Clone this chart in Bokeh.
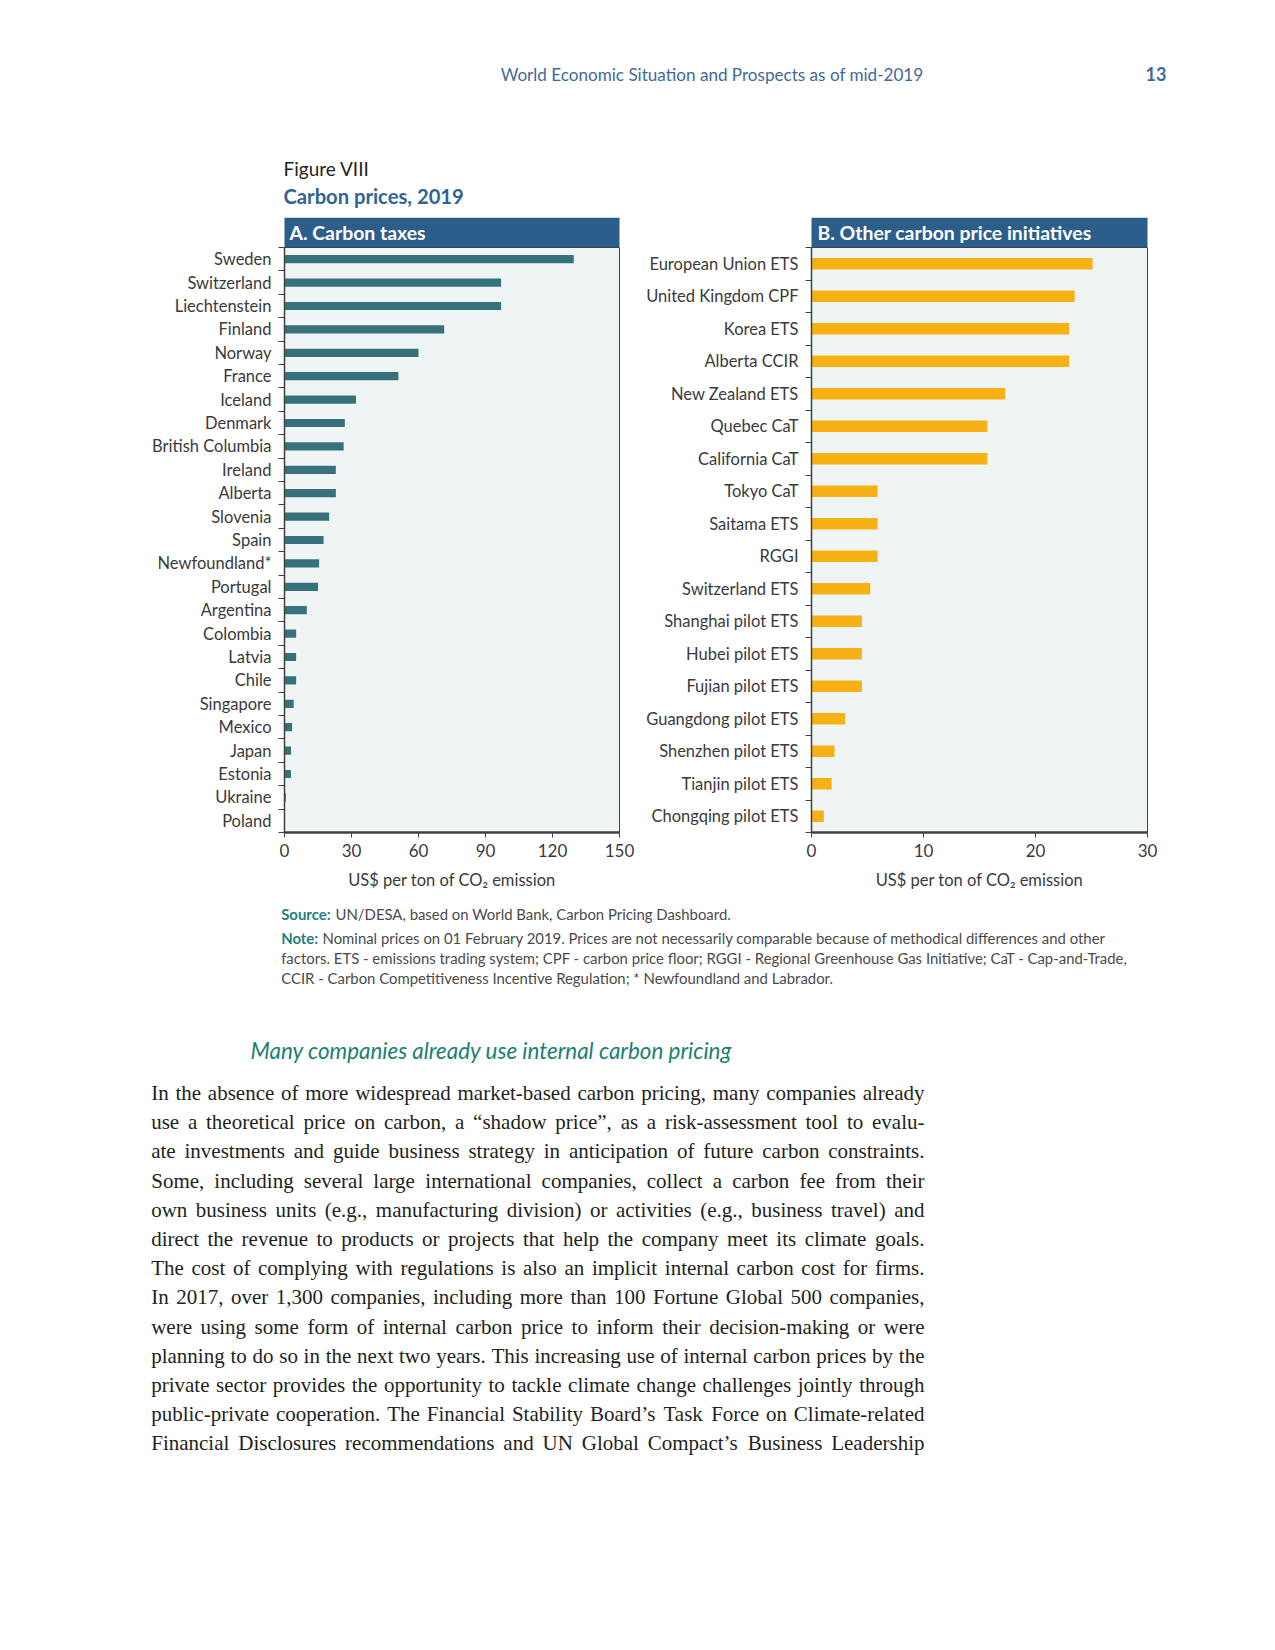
from bokeh.plotting import figure
from bokeh.layouts import column, row
from bokeh.models import Range1d, FixedTicker, LinearAxis, ColumnDataSource
from bokeh.core.properties import value
from bokeh.embed import file_html
from bokeh.resources import INLINE

# ---------------- data ----------------
tax_names = ["Sweden", "Switzerland", "Liechtenstein", "Finland", "Norway", "France",
             "Iceland", "Denmark", "British Columbia", "Ireland", "Alberta", "Slovenia",
             "Spain", "Newfoundland*", "Portugal", "Argentina", "Colombia", "Latvia",
             "Chile", "Singapore", "Mexico", "Japan", "Estonia", "Ukraine", "Poland"]
tax_values = [129.5, 97, 97, 71.5, 60, 51, 32, 27, 26.5, 23, 23, 20, 17.5, 15.5, 15,
              10, 5.2, 5.2, 5.2, 4.1, 3.4, 2.9, 2.9, 0.6, 0.2]
tax_ticks = [0, 30, 60, 90, 120, 150]

eti_names = ["European Union ETS", "United Kingdom CPF", "Korea ETS", "Alberta CCIR",
             "New Zealand ETS", "Quebec CaT", "California CaT", "Tokyo CaT", "Saitama ETS",
             "RGGI", "Switzerland ETS", "Shanghai pilot ETS", "Hubei pilot ETS",
             "Fujian pilot ETS", "Guangdong pilot ETS", "Shenzhen pilot ETS",
             "Tianjin pilot ETS", "Chongqing pilot ETS"]
eti_values = [25.1, 23.5, 23.0, 23.0, 17.3, 15.7, 15.7, 5.9, 5.9, 5.9, 5.25, 4.5, 4.5,
              4.5, 3.0, 2.05, 1.8, 1.1]
eti_ticks = [0, 10, 20, 30]

x_title = "US$ per ton of CO\u2082 emission"

header_text = "World Economic Situation and Prospects as of mid-2019"
page_no = "13"
fig_label = "Figure VIII"
fig_title = "Carbon prices, 2019"
panel_titles = ["A. Carbon taxes", "B. Other carbon price initiatives"]

source_lbl = "Source:"
source_txt = "UN/DESA, based on World Bank, Carbon Pricing Dashboard."
note_lbl = "Note:"
note_lines = [
    "Nominal prices on 01 February 2019. Prices are not necessarily comparable because of methodical differences and other",
    "factors. ETS - emissions trading system; CPF - carbon price floor; RGGI - Regional Greenhouse Gas Initiative; CaT - Cap-and-Trade,",
    "CCIR - Carbon Competitiveness Incentive Regulation; * Newfoundland and Labrador.",
]
heading = "Many companies already use internal carbon pricing"
body_lines = [
    "In the absence of more widespread market-based carbon pricing, many companies already",
    "use a theoretical price on carbon, a \u201cshadow price\u201d, as a risk-assessment tool to evalu-",
    "ate investments and guide business strategy in anticipation of future carbon constraints.",
    "Some, including several large international companies, collect a carbon fee from their",
    "own business units (e.g., manufacturing division) or activities (e.g., business travel) and",
    "direct the revenue to products or projects that help the company meet its climate goals.",
    "The cost of complying with regulations is also an implicit internal carbon cost for firms.",
    "In 2017, over 1,300 companies, including more than 100 Fortune Global 500 companies,",
    "were using some form of internal carbon price to inform their decision-making or were",
    "planning to do so in the next two years. This increasing use of internal carbon prices by the",
    "private sector provides the opportunity to tackle climate change challenges jointly through",
    "public-private cooperation. The Financial Stability Board\u2019s Task Force on Climate-related",
    "Financial Disclosures recommendations and UN Global Compact\u2019s Business Leadership",
]

# ---------------- styles ----------------
SANS = "Lato"
SERIF = "Liberation Serif"
DARK = "#404040"
LABEL = "#3a3a3a"
BLUE_BAND = "#2c5e8c"
BLUE_TXT = "#2f6395"
HEAD_BLUE = "#3d6a9a"
TEAL = "#23807f"
TEAL_HEAD = "#1a7f73"
TAX_COLOR = "#36717c"
ETI_COLOR = "#f8b114"
BG = "#eff5f5"
PAGE_W = 1270
DY_SANS = 7.3     # baseline correction for text glyphs
DY_SERIF = 8.2


def bare(width, height, x0, x1, y0, y1):
    p = figure(width=width, height=height, x_range=Range1d(x0, x1), y_range=Range1d(y1, y0),
               output_backend="svg", toolbar_location=None, x_axis_type=None,
               y_axis_type=None, min_border=0, outline_line_color=None)
    return p


def txt(p, x, y, s, font, size, color, style="normal", align="left"):
    dy = DY_SERIF if font == SERIF else DY_SANS
    p.text(x=[x], y=[y - dy], text=[s], text_font=value(font), text_font_size=value(size),
           text_color=color, text_font_style=style, text_align=align,
           text_baseline="alphabetic")


# ---------------- top decoration ----------------
top = bare(PAGE_W, 247, 0, PAGE_W, 0, 247)
txt(top, 923, 81, header_text, SANS, "17.1px", HEAD_BLUE, align="right")
txt(top, 1145, 81, page_no, SANS, "18px", HEAD_BLUE, style="bold")
txt(top, 283, 175, fig_label, SANS, "19px", "#231f20")
txt(top, 283, 203, fig_title, SANS, "20.2px", BLUE_TXT, style="bold")
top.quad(left=[284, 811], right=[619, 1147], top=[217.3, 217.3], bottom=[247, 247],
         fill_color=BLUE_BAND, line_color=None)
txt(top, 289, 239, panel_titles[0], SANS, "19.4px", "white", style="bold")
txt(top, 817, 239, panel_titles[1], SANS, "19.4px", "white", style="bold")


# ---------------- panels ----------------
def panel(names, vals, color, xmax, ticks, width, left, right):
    n = len(names)
    ys = [n - 1 - i for i in range(n)]
    src = ColumnDataSource(dict(y=ys, v=vals, name=names))
    p = figure(width=width, height=653, output_backend="svg", toolbar_location=None,
               x_range=Range1d(0, xmax), y_range=Range1d(-0.5, n - 0.5),
               x_axis_type=None, y_axis_type=None,
               min_border_left=left, min_border_right=right, min_border_top=0,
               min_border_bottom=68, background_fill_color=BG,
               outline_line_color=DARK, outline_line_width=1)
    p.hbar(y="y", left=0, right="v", height=0.35, fill_color=color, line_color=None,
           source=src)
    yax = LinearAxis(ticker=FixedTicker(ticks=ys, minor_ticks=[i - 0.5 for i in range(n + 1)]),
                     major_label_overrides={y: nm for y, nm in zip(ys, names)})
    yax.major_tick_line_color = None
    yax.major_tick_out = 0
    yax.major_tick_in = 0
    yax.minor_tick_out = 6
    yax.minor_tick_in = 0
    yax.minor_tick_line_color = DARK
    yax.minor_tick_line_width = 1.2
    yax.axis_line_color = DARK
    yax.axis_line_width = 1.5
    yax.major_label_standoff = 7
    yax.major_label_text_font = SANS
    yax.major_label_text_font_size = "16.5px"
    yax.major_label_text_color = LABEL
    p.add_layout(yax, "left")
    xax = LinearAxis(ticker=FixedTicker(ticks=ticks), axis_label=x_title)
    xax.major_tick_out = 5
    xax.major_tick_in = 0
    xax.minor_tick_line_color = None
    xax.major_tick_line_color = DARK
    xax.axis_line_color = DARK
    xax.axis_line_width = 2.5
    xax.major_label_standoff = 6
    xax.major_label_text_font = SANS
    xax.major_label_text_font_size = "17px"
    xax.major_label_text_color = LABEL
    xax.axis_label_text_font = SANS
    xax.axis_label_text_font_size = "16.5px"
    xax.axis_label_text_font_style = "normal"
    xax.axis_label_text_color = LABEL
    xax.axis_label_standoff = 10
    p.add_layout(xax, "below")
    return p


pa = panel(tax_names, tax_values, TAX_COLOR, 150, tax_ticks, 634, 284, 15)
pb = panel(eti_names, eti_values, ETI_COLOR, 30, eti_ticks, PAGE_W - 634, 177, PAGE_W - 1147)

# ---------------- footer ----------------
foot = bare(PAGE_W, 570, 0, PAGE_W, 900, 1470)
NOTE_FS = "14.9px"
NOTE_C = "#4a4a4a"
txt(foot, 280.7, 920.7, source_lbl, SANS, NOTE_FS, TEAL, style="bold")
txt(foot, 335, 920.7, source_txt, SANS, NOTE_FS, NOTE_C)
txt(foot, 280.7, 945, note_lbl, SANS, NOTE_FS, TEAL, style="bold")
txt(foot, 322, 945, note_lines[0], SANS, NOTE_FS, NOTE_C)
txt(foot, 280.7, 965, note_lines[1], SANS, NOTE_FS, NOTE_C)
txt(foot, 280.7, 984.5, note_lines[2], SANS, NOTE_FS, NOTE_C)
txt(foot, 250, 1057, heading, SANS, "22.4px", TEAL_HEAD, style="italic")

TW = {' ': 250, 'a': 444, 'b': 500, 'c': 444, 'd': 500, 'e': 444, 'f': 333, 'g': 500,
      'h': 500, 'i': 278, 'j': 278, 'k': 500, 'l': 278, 'm': 778, 'n': 500, 'o': 500,
      'p': 500, 'q': 500, 'r': 333, 's': 389, 't': 278, 'u': 500, 'v': 500, 'w': 722,
      'x': 500, 'y': 500, 'z': 444, 'A': 722, 'B': 667, 'C': 667, 'D': 722, 'E': 611,
      'F': 556, 'G': 722, 'H': 722, 'I': 333, 'J': 389, 'K': 722, 'L': 611, 'M': 889,
      'N': 722, 'O': 722, 'P': 556, 'Q': 722, 'R': 667, 'S': 556, 'T': 611, 'U': 722,
      'V': 722, 'W': 944, 'X': 722, 'Y': 722, 'Z': 611, ',': 250, '.': 250, '-': 333,
      '(': 333, ')': 333, ';': 278, ':': 278, '\u201c': 444, '\u201d': 444, '\u2019': 333}


def tw(s, size):
    return sum(TW.get(c, 500) for c in s) / 1000.0 * size


X0, X1 = 150.7, 924.0
FS = 21.0
bx, by, bt, bs = [], [], [], []
for i, line in enumerate(body_lines):
    words = line.split(" ")
    fs = FS
    while True:
        ww = [tw(w, fs) for w in words]
        gap = (X1 - X0 - sum(ww)) / (len(words) - 1)
        if gap >= 0.6 * 0.25 * fs:
            break
        fs -= 0.25
    x = X0
    for w, wdt in zip(words, ww):
        bx.append(x)
        by.append(1100.7 + 29.2 * i - DY_SERIF)
        bt.append(w)
        bs.append("%.2fpx" % fs)
        x += wdt + gap

foot.text(x="x", y="y", text="t", text_font_size="s",
          source=ColumnDataSource(dict(x=bx, y=by, t=bt, s=bs)),
          text_font=value(SERIF), text_color="#231f20", text_baseline="alphabetic")

layout = column(top, row(pa, pb), foot)
open("out.html", "w").write(file_html(layout, INLINE))
